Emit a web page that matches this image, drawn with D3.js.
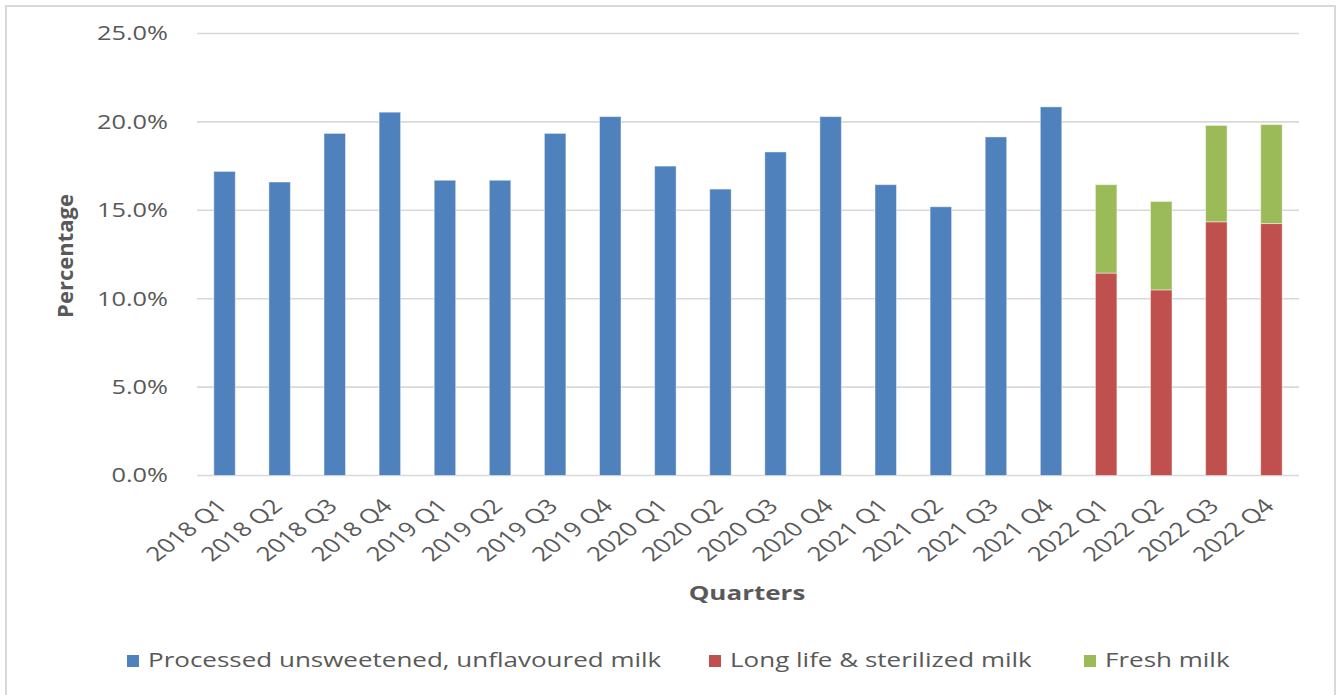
<!DOCTYPE html>
<html>
<head>
<meta charset="utf-8">
<script src="https://cdn.jsdelivr.net/npm/d3@7"></script>
<style>
  html, body { margin: 0; padding: 0; background: #fff; }
  svg { display: block; }
  text { font-family: "Open Sans", sans-serif; fill: #595959; }
</style>
</head>
<body>
<svg id="chart" width="1341" height="695"></svg>
<script>
// Share of milk categories by quarter (percent)
const quarters = [
  "2018 Q1", "2018 Q2", "2018 Q3", "2018 Q4",
  "2019 Q1", "2019 Q2", "2019 Q3", "2019 Q4",
  "2020 Q1", "2020 Q2", "2020 Q3", "2020 Q4",
  "2021 Q1", "2021 Q2", "2021 Q3", "2021 Q4",
  "2022 Q1", "2022 Q2", "2022 Q3", "2022 Q4"
];
const processedMilk = [17.2, 16.6, 19.35, 20.55, 16.7, 16.7, 19.35, 20.3, 17.5, 16.2, 18.3, 20.3, 16.45, 15.2, 19.15, 20.85, 0, 0, 0, 0];
const longLifeMilk  = [0, 0, 0, 0, 0, 0, 0, 0, 0, 0, 0, 0, 0, 0, 0, 0, 11.45, 10.5, 14.35, 14.25];
const freshMilk     = [0, 0, 0, 0, 0, 0, 0, 0, 0, 0, 0, 0, 0, 0, 0, 0, 5.0, 5.0, 5.45, 5.6];
const seriesNames = ["Processed unsweetened, unflavoured milk", "Long life & sterilized milk", "Fresh milk"];
const seriesColors = ["#4f81bd", "#c0504d", "#9bbb59"];
const yTicks = [0, 5, 10, 15, 20, 25];

const svg = d3.select("#chart");
const STRETCH = 1.3;   // horizontal text widening
const FONT = 19.5;

// outer frame
svg.append("rect")
  .attr("x", 6).attr("y", 6).attr("width", 1329).attr("height", 720)
  .attr("fill", "none").attr("stroke", "#d9d9d9").attr("stroke-width", 2);

const plot = { left: 197, right: 1299, top: 33.5, bottom: 475.5 };

const x = d3.scaleBand().domain(quarters).range([plot.left, plot.right]).paddingInner(0.61).paddingOuter(0.305);
const y = d3.scaleLinear().domain([0, 25]).range([plot.bottom, plot.top]);

// gridlines
svg.append("g").selectAll("line").data(yTicks).join("line")
  .attr("x1", plot.left).attr("x2", plot.right)
  .attr("y1", d => y(d)).attr("y2", d => y(d))
  .attr("stroke", "#d9d9d9").attr("stroke-width", 1.6);

// y tick labels
svg.append("g").selectAll("g").data(yTicks).join("g")
  .attr("transform", d => `translate(168,${y(d)}) scale(${STRETCH},1)`)
  .append("text")
  .attr("text-anchor", "end").attr("dy", "0.35em")
  .attr("font-size", FONT)
  .text(d => d.toFixed(1) + "%");

// stacked bars
const rows = quarters.map((q, i) => ({ q, a: processedMilk[i], b: longLifeMilk[i], c: freshMilk[i] }));
const stack = d3.stack().keys(["a", "b", "c"])(rows);
svg.append("g").selectAll("g").data(stack).join("g")
  .attr("fill", (d, i) => seriesColors[i])
  .selectAll("rect").data(d => d.filter(s => s[1] - s[0] > 0)).join("rect")
  .attr("x", d => x(d.data.q))
  .attr("width", x.bandwidth())
  .attr("y", d => y(d[1]))
  .attr("height", d => y(d[0]) - y(d[1]))
  .attr("stroke", "rgba(255,255,255,0.45)").attr("stroke-width", 1);

// x tick labels, rotated
svg.append("g").selectAll("g").data(quarters).join("g")
  .attr("transform", d => `translate(${x(d) + x.bandwidth() / 2 + 4},${plot.bottom + 32}) scale(${STRETCH},1) rotate(-45)`)
  .append("text")
  .attr("text-anchor", "end")
  .attr("font-size", 20)
  .text(d => d);

// axis titles
svg.append("g").attr("transform", `translate(747,600) scale(${STRETCH},1)`)
  .append("text").attr("text-anchor", "middle").attr("font-size", 20).attr("font-weight", "bold")
  .text("Quarters");
svg.append("g").attr("transform", "translate(73,256) rotate(-90)")
  .append("text").attr("text-anchor", "middle").attr("font-size", 22).attr("font-weight", "bold")
  .text("Percentage");

// legend
const legendX = [127, 709, 1084];
const legend = svg.append("g").selectAll("g").data(seriesNames).join("g")
  .attr("transform", (d, i) => `translate(${legendX[i]},0)`);
legend.append("rect").attr("x", 0).attr("y", 655).attr("width", 12).attr("height", 12)
  .attr("fill", (d, i) => seriesColors[i]);
legend.append("g").attr("transform", `translate(21,667) scale(${STRETCH},1)`)
  .append("text").attr("font-size", 20).text(d => d);
</script>
</body>
</html>
